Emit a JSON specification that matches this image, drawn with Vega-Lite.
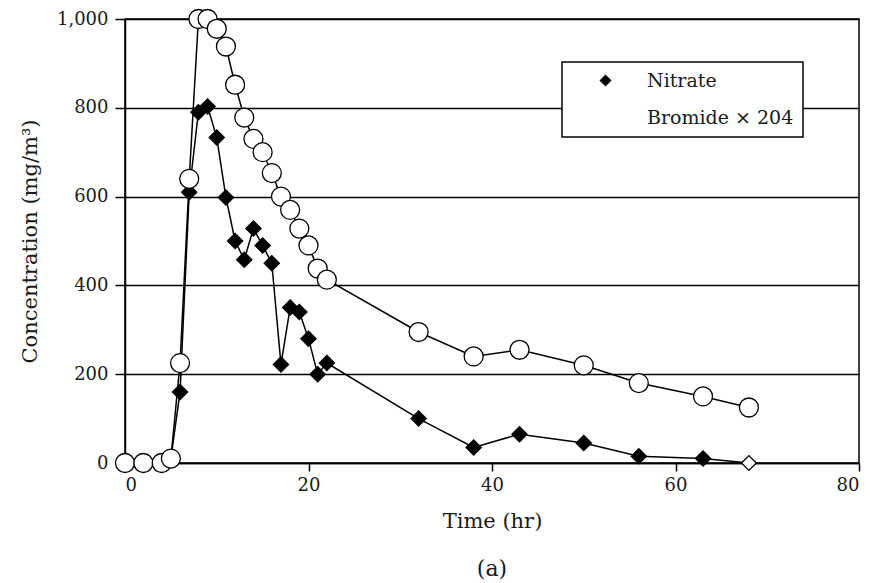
{
  "$schema": "https://vega.github.io/schema/vega-lite/v6.json",
  "width": 734,
  "height": 444,
  "autosize": {"type": "none"},
  "padding": {"left": 125, "top": 19, "right": 17, "bottom": 120},
  "background": "white",
  "config": {
    "view": {"stroke": "black", "strokeWidth": 1.5},
    "font": "DejaVu Serif",
    "axis": {"labelFont": "DejaVu Serif", "titleFont": "DejaVu Serif", "labelColor": "#1a1a1a", "titleColor": "#1a1a1a", "labelFontSize": 18, "titleFontSize": 21, "titleFontWeight": "normal", "domainColor": "black", "tickColor": "black", "domainWidth": 1.5, "tickWidth": 1.5},
    "legend": {"orient": "none", "legendX": 437, "legendY": 43, "padding": 9, "fillColor": "white", "strokeColor": "black", "strokeWidth": 1.5, "labelFont": "DejaVu Serif", "labelFontSize": 19, "labelColor": "#1a1a1a", "symbolSize": 144, "symbolStrokeColor": "black", "symbolStrokeWidth": 1.3, "symbolOffset": 25, "labelOffset": 32, "rowPadding": 17}
  },
  "title": {"text": "(a)", "orient": "bottom", "font": "DejaVu Serif", "fontSize": 22, "fontWeight": "normal", "color": "#1a1a1a", "offset": 28},
  "datasets": {
    "conc": [
      {"series": "Nitrate", "time": 0, "conc": 0, "nd": false},
      {"series": "Nitrate", "time": 2, "conc": 0, "nd": false},
      {"series": "Nitrate", "time": 4, "conc": 0, "nd": false},
      {"series": "Nitrate", "time": 5, "conc": 10, "nd": false},
      {"series": "Nitrate", "time": 6, "conc": 160, "nd": false},
      {"series": "Nitrate", "time": 7, "conc": 610, "nd": false},
      {"series": "Nitrate", "time": 8, "conc": 790, "nd": false},
      {"series": "Nitrate", "time": 9, "conc": 803, "nd": false},
      {"series": "Nitrate", "time": 10, "conc": 733, "nd": false},
      {"series": "Nitrate", "time": 11, "conc": 598, "nd": false},
      {"series": "Nitrate", "time": 12, "conc": 500, "nd": false},
      {"series": "Nitrate", "time": 13, "conc": 458, "nd": false},
      {"series": "Nitrate", "time": 14, "conc": 528, "nd": false},
      {"series": "Nitrate", "time": 15, "conc": 490, "nd": false},
      {"series": "Nitrate", "time": 16, "conc": 450, "nd": false},
      {"series": "Nitrate", "time": 17, "conc": 222, "nd": false},
      {"series": "Nitrate", "time": 18, "conc": 350, "nd": false},
      {"series": "Nitrate", "time": 19, "conc": 340, "nd": false},
      {"series": "Nitrate", "time": 20, "conc": 280, "nd": false},
      {"series": "Nitrate", "time": 21, "conc": 200, "nd": false},
      {"series": "Nitrate", "time": 22, "conc": 225, "nd": false},
      {"series": "Nitrate", "time": 32, "conc": 100, "nd": false},
      {"series": "Nitrate", "time": 38, "conc": 35, "nd": false},
      {"series": "Nitrate", "time": 43, "conc": 65, "nd": false},
      {"series": "Nitrate", "time": 50, "conc": 45, "nd": false},
      {"series": "Nitrate", "time": 56, "conc": 15, "nd": false},
      {"series": "Nitrate", "time": 63, "conc": 10, "nd": false},
      {"series": "Nitrate", "time": 68, "conc": 0, "nd": true},
      {"series": "Bromide × 204", "time": 0, "conc": 0, "nd": false},
      {"series": "Bromide × 204", "time": 2, "conc": 0, "nd": false},
      {"series": "Bromide × 204", "time": 4, "conc": 0, "nd": false},
      {"series": "Bromide × 204", "time": 5, "conc": 10, "nd": false},
      {"series": "Bromide × 204", "time": 6, "conc": 225, "nd": false},
      {"series": "Bromide × 204", "time": 7, "conc": 640, "nd": false},
      {"series": "Bromide × 204", "time": 8, "conc": 1000, "nd": false},
      {"series": "Bromide × 204", "time": 9, "conc": 1000, "nd": false},
      {"series": "Bromide × 204", "time": 10, "conc": 978, "nd": false},
      {"series": "Bromide × 204", "time": 11, "conc": 938, "nd": false},
      {"series": "Bromide × 204", "time": 12, "conc": 852, "nd": false},
      {"series": "Bromide × 204", "time": 13, "conc": 778, "nd": false},
      {"series": "Bromide × 204", "time": 14, "conc": 730, "nd": false},
      {"series": "Bromide × 204", "time": 15, "conc": 700, "nd": false},
      {"series": "Bromide × 204", "time": 16, "conc": 653, "nd": false},
      {"series": "Bromide × 204", "time": 17, "conc": 600, "nd": false},
      {"series": "Bromide × 204", "time": 18, "conc": 570, "nd": false},
      {"series": "Bromide × 204", "time": 19, "conc": 528, "nd": false},
      {"series": "Bromide × 204", "time": 20, "conc": 490, "nd": false},
      {"series": "Bromide × 204", "time": 21, "conc": 438, "nd": false},
      {"series": "Bromide × 204", "time": 22, "conc": 413, "nd": false},
      {"series": "Bromide × 204", "time": 32, "conc": 295, "nd": false},
      {"series": "Bromide × 204", "time": 38, "conc": 240, "nd": false},
      {"series": "Bromide × 204", "time": 43, "conc": 255, "nd": false},
      {"series": "Bromide × 204", "time": 50, "conc": 220, "nd": false},
      {"series": "Bromide × 204", "time": 56, "conc": 180, "nd": false},
      {"series": "Bromide × 204", "time": 63, "conc": 150, "nd": false},
      {"series": "Bromide × 204", "time": 68, "conc": 125, "nd": false}
    ]
  },
  "data": {"name": "conc"},
  "encoding": {
    "x": {"field": "time", "type": "quantitative", "scale": {"domain": [0, 80], "nice": false},
      "axis": {"title": "Time (hr)", "values": [0, 20, 40, 60, 80], "format": "d", "grid": false, "tickSize": 8, "labelPadding": 5, "titlePadding": 16}},
    "y": {"field": "conc", "type": "quantitative", "scale": {"domain": [0, 1000], "nice": false},
      "axis": {"title": "Concentration (mg/m³)", "values": [0, 200, 400, 600, 800, 1000], "format": ",d", "grid": true, "gridColor": "black", "gridWidth": 1.3, "gridOpacity": 1, "tickSize": 10, "labelPadding": 7, "titlePadding": 16}}
  },
  "layer": [
    {
      "mark": {"type": "line", "color": "black", "strokeWidth": 1.5},
      "encoding": {"detail": {"field": "series"}}
    },
    {
      "transform": [{"filter": "!datum.nd && datum.series === 'Nitrate'"}],
      "mark": {"type": "point", "filled": false, "stroke": "black", "strokeWidth": 1.3, "opacity": 1, "size": 230},
      "encoding": {
        "shape": {"field": "series", "type": "nominal", "scale": {"domain": ["Nitrate", "Bromide × 204"], "range": ["diamond", "circle"]},
          "legend": {"title": null, "encode": {"symbols": {"shape": {"condition": {"test": "datum.value === 'Nitrate'", "value": "M-5.6,0L-1,0M-1,0L0,-1L1,0L0,1ZM1,0L5.6,0"}, "value": "M-5.6,0L-0.8,0M0.8,0L5.6,0M0.8,0A0.8,0.8 0 1,1 -0.8,0A0.8,0.8 0 1,1 0.8,0Z"}, "stroke": {"value": "black"}, "strokeWidth": {"value": 1.3}, "fill": {"condition": {"test": "datum.value === 'Nitrate'", "value": "black"}, "value": "white"}, "opacity": {"value": 1}}}}},
        "fill": {"field": "series", "type": "nominal", "scale": {"domain": ["Nitrate", "Bromide × 204"], "range": ["black", "white"]},
          "legend": {"title": null, "encode": {"symbols": {"shape": {"condition": {"test": "datum.value === 'Nitrate'", "value": "M-5.6,0L-1,0M-1,0L0,-1L1,0L0,1ZM1,0L5.6,0"}, "value": "M-5.6,0L-0.8,0M0.8,0L5.6,0M0.8,0A0.8,0.8 0 1,1 -0.8,0A0.8,0.8 0 1,1 0.8,0Z"}, "stroke": {"value": "black"}, "strokeWidth": {"value": 1.3}, "fill": {"condition": {"test": "datum.value === 'Nitrate'", "value": "black"}, "value": "white"}, "opacity": {"value": 1}}}}}
      }
    },
    {
      "transform": [{"filter": "datum.series !== 'Nitrate'"}],
      "mark": {"type": "point", "filled": false, "stroke": "black", "strokeWidth": 1.3, "opacity": 1, "size": 360},
      "encoding": {
        "shape": {"field": "series", "type": "nominal"},
        "fill": {"field": "series", "type": "nominal"}
      }
    },
    {
      "transform": [{"filter": "datum.nd"}],
      "mark": {"type": "point", "shape": "diamond", "filled": true, "fill": "white", "stroke": "black", "strokeWidth": 1.3, "size": 220, "opacity": 1}
    }
  ]
}
